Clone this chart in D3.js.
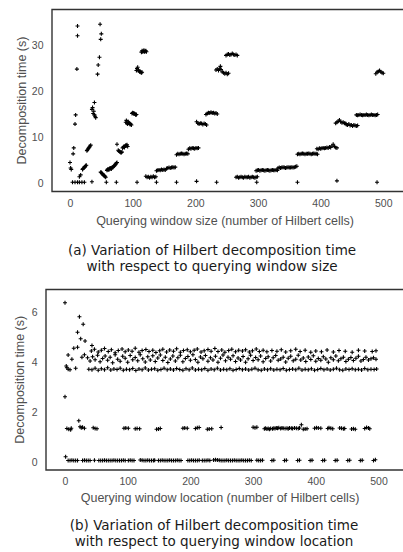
<!DOCTYPE html>
<html><head><meta charset="utf-8">
<script src="https://cdn.jsdelivr.net/npm/d3@7"></script>
<style>body{margin:0;background:#fff}svg{display:block}</style>
</head><body><svg id="c" width="403" height="552"></svg>
<script>
// ---------- Chart (a): window size vs decomposition time ----------
const sizeTicksX = [0, 100, 200, 300, 400, 500];
const sizeTicksY = [0, 10, 20, 30];
const sizeScatter = [[0,4.4],[1,3.2],[2,2.9],[5,6.3],[6,7.6],[8,12.8],[9,14.8],[11,24.8],[12,32.1],[12,34.2],[15,1.3],[17,1.7],
 [4,0.1],[8,0.1],[12,0.1],[15,0.1],[19,0.1],[23,0.1],[35,0.2],[58,0.1],[74,0.1],[107,0.1],[138,0.1],[170,0.1],[202,0.3],[234,0.1],
 [298,0.1],[363,0.1],[426,0.4],[490,0.1],[44,23.7],[45,25.7],[47,27.4],[49,31.3],[50,32.5],[48,34.6],[39,17.5],[75,8.4],
 [35,16.0],[36,16.4],[37,15.1],[38,15.6],[39,14.8],[40,14.5],[41,14.2]];
const sizeLow = [[20,2.9],[21,3.1],[22,3.2],[23,3.4],[24,3.5],[25,3.7],[26,3.8],
 [27,7.0],[28,7.2],[29,7.4],[30,7.6],[31,7.8],[32,8.0],[33,8.2],
 [49,2.3],[50,2.2],[51,2.0],[52,1.9],[53,1.7],[54,1.6],[55,1.5],[56,1.3],[57,1.2],
 [59,2.7],[60,2.9],[61,3.0],[62,2.8],[63,3.1],[64,3.1],[65,3.2],[66,3.0],[67,3.3],[68,3.4],[69,3.5],[70,3.6],[71,3.7],[72,3.9],[73,4.1],[74,4.3],[75,4.4],
 [77,7.1],[78,6.9],[79,6.8],[80,6.7],[81,6.6],[82,6.6],[83,6.7],
 [84,7.6],[85,7.8],[86,7.9],[87,7.7],[88,8.0],[89,8.2],[90,8.1],[91,8.3],[92,7.9],
 [121,1.4],[123,1.2],[125,1.3],[127,1.1],[129,1.3],[131,1.2],[133,1.4],[135,1.2],[137,1.3],
 [138,2.6],[140,2.7],[142,2.8],[144,2.7],[146,2.9],[148,2.8],[150,2.9],[152,2.8],
 [154,3.1],[156,3.2],[158,3.3],[160,3.2],[162,3.3],[164,3.4],[166,3.3],[168,3.4],
 [170,6.1],[172,6.3],[174,6.2],[176,6.3],[178,6.4],[180,6.3],[182,6.2],[184,6.3],[186,6.4],[188,6.3],
 [189,7.3],[191,7.5],[193,7.4],[195,7.6],[197,7.5],[199,7.4],[201,7.6],[203,7.5],[205,7.6],
 [265,1.2],[267,1.3],[269,1.1],[271,1.2],[273,1.3],[275,1.2],[277,1.1],[279,1.3],[281,1.2],[283,1.2],[285,1.3],[287,1.1],[289,1.2],[291,1.3],[293,1.2],[295,1.1],[297,1.2],[299,1.3],
 [297,2.6],[299,2.7],[301,2.8],[303,2.6],[305,2.7],[307,2.8],[309,2.7],[311,2.6],[313,2.7],[315,2.8],[317,2.7],[319,2.6],[321,2.7],[323,2.8],[325,2.7],[327,2.7],[329,2.8],[331,2.7],
 [332,3.2],[334,3.3],[336,3.2],[338,3.3],[340,3.4],[342,3.3],[344,3.2],[346,3.3],[348,3.4],[350,3.3],[352,3.3],[354,3.4],[356,3.3],[358,3.4],[360,3.5],[362,3.6],
 [363,6.2],[365,6.3],[367,6.2],[369,6.3],[371,6.4],[373,6.3],[375,6.2],[377,6.3],[379,6.3],[381,6.4],[383,6.3],[385,6.2],[387,6.3],[389,6.4],[391,6.3],[393,6.3],[395,6.2],
 [394,7.4],[396,7.3],[398,7.5],[400,7.4],[402,7.5],[404,7.6],[406,7.5],[408,7.6],[410,7.7],[412,7.6],[414,7.8],[416,7.7],[418,8.0],[420,8.4],[422,7.9],[424,7.7],[426,7.6]];
const sizeHigh = [[89,13.2],[90,13.6],[91,13.0],[92,12.8],[93,13.3],[94,13.1],[95,12.9],[96,12.7],[97,12.8],[98,12.6],
 [99,15.1],[100,15.3],[101,15.2],[102,15.0],[103,15.1],[104,15.0],[105,14.8],[106,14.9],
 [106,24.5],[107,24.9],[108,25.2],[109,24.6],[110,24.4],[111,24.2],[112,24.3],[113,24.1],[114,24.0],[115,24.1],
 [114,28.5],[115,28.8],[116,28.6],[117,28.7],[118,28.9],[119,28.6],[120,28.7],[121,28.8],[122,28.6],
 [202,13.3],[204,13.0],[206,12.8],[208,13.0],[210,12.9],[212,12.7],[214,12.9],[216,12.8],[218,12.6],
 [217,14.9],[219,15.1],[221,15.3],[223,15.2],[225,15.4],[227,15.2],[229,15.3],[231,15.1],[233,15.2],[235,15.0],
 [233,24.6],[235,24.8],[237,24.5],[239,25.0],[240,25.4],[241,24.7],[243,24.2],[245,24.0],[247,23.8],[249,24.0],[251,23.7],[253,23.9],
 [249,27.8],[251,28.0],[253,28.1],[255,27.9],[257,28.0],[259,28.2],[261,28.0],[263,27.9],[265,28.0],[267,27.8],
 [424,13.0],[426,13.2],[428,13.4],[430,13.7],[432,13.3],[434,13.1],[436,13.2],[438,13.0],[440,12.9],
 [441,12.7],[443,12.6],[445,12.8],[447,12.5],[449,12.6],[451,12.4],[453,12.6],[455,12.5],[457,12.4],[459,12.5],
 [457,14.8],[459,14.7],[461,14.8],[463,14.9],[465,14.8],[467,14.7],[469,14.8],[471,14.8],[473,14.9],[475,14.8],[477,14.7],[479,14.8],[481,14.9],[483,14.8],[485,14.8],[487,14.7],[489,14.8],[491,14.9],
 [488,23.8],[490,24.1],[492,24.3],[494,24.5],[496,24.2],[498,24.0],[500,23.9]];

// ---------- Chart (b): window location vs decomposition time ----------
const locTicksX = [0, 100, 200, 300, 400, 500];
const locTicksY = [0, 2, 4, 6];
const locScatter = [[0,6.38],[0,2.62],[1,0.22],[23,5.82],[29,5.52],[20,5.2],[25,4.94],[32,4.85],[14,4.56],[20,4.6],[5,4.29],[11,4.12],
 [2,3.85],[3,3.78],[5,3.72],[8,3.7],[17,3.76],[27,4.2],[31,4.3],[43,4.67],[22,1.66]];
const bandUpper = [[42,4.45],[47,4.52],[53,4.41],[58,4.48],[63,4.55],[69,4.43],[74,4.5],[80,4.38],[85,4.47],[91,4.53],[96,4.42],[101,4.49],[107,4.44],[112,4.56],[118,4.4],[123,4.47],[129,4.51],[134,4.43],[140,4.48],[145,4.39],[151,4.46],[156,4.52],[162,4.41],[167,4.49],[173,4.44],[178,4.54],[184,4.4],[189,4.47],[195,4.5],[200,4.42],[206,4.48],[211,4.53],[217,4.41],[222,4.46],[228,4.51],[233,4.44],[239,4.55],[244,4.43],[250,4.49],[255,4.4],[261,4.47],[266,4.52],[272,4.42],[277,4.48],[283,4.45],[288,4.5],[294,4.41],[299,4.46],[305,4.53],[310,4.43],[316,4.48],[322,4.42],[330,4.47],[338,4.44],[345,4.5],[352,4.41],[360,4.46],[368,4.52],[375,4.43],[383,4.48],[392,4.4],[400,4.45],[409,4.42],[418,4.49],[428,4.41],[437,4.47],[447,4.44],[458,4.4],[468,4.48],[478,4.45],[490,4.43],[496,4.46]];
const bandMiddle = [[36,4.18],[40,4.05],[44,4.22],[48,4.1],[52,4.28],[56,4.02],[60,4.15],[64,4.25],[68,4.08],[72,4.2],[76,3.98],[80,4.3],[84,4.12],[88,4.04],[92,4.24],[96,4.16],[100,4.0],[104,4.27],[108,4.1],[112,4.19],[116,4.06],[120,4.3],[124,4.14],[128,4.01],[132,4.22],[136,4.09],[140,4.26],[144,4.03],[148,4.17],[152,4.29],[156,4.07],[160,4.2],[164,3.99],[168,4.13],[172,4.25],[176,4.05],[180,4.18],[184,4.28],[188,4.02],[192,4.15],[196,4.23],[200,4.08],[204,4.3],[208,4.11],[212,4.0],[216,4.21],[220,4.14],[224,4.27],[228,4.04],[232,4.18],[236,4.09],[240,4.24],[244,4.0],[248,4.16],[252,4.29],[256,4.06],[260,4.2],[264,4.12],[268,4.26],[272,4.03],[276,4.17],[280,4.09],[284,4.23],[288,4.0],[292,4.14],[296,4.28],[300,4.07],[304,4.19],[308,4.1],[312,4.25],[316,4.02],[320,4.15],[324,4.22],[328,4.05],[332,4.18],[336,4.27],[340,4.08],[344,4.13],[348,4.2],[352,4.01],[356,4.16],[360,4.24],[364,4.06],[368,4.12],[372,4.28],[376,4.09],[380,4.17],[384,4.03],[388,4.21],[392,4.11],[396,4.26],[400,4.04],[404,4.15],[408,4.08],[412,4.22],[416,4.13],[420,4.0],[424,4.18],[428,4.1],[432,4.25],[436,4.06],[440,4.14],[444,4.2],[448,4.03],[452,4.12],[456,4.19],[460,4.07],[464,4.16],[468,4.24],[472,4.05],[476,4.11],[480,4.2],[484,4.09],[488,4.14],[492,4.18],[496,4.12]];
const bandLower = [[38,3.72],[43,3.7],[48,3.76],[53,3.68],[58,3.74],[63,3.7],[68,3.78],[73,3.69],[78,3.73],[83,3.71],[88,3.76],[93,3.68],[98,3.72],[103,3.7],[108,3.75],[113,3.67],[118,3.73],[123,3.7],[128,3.77],[133,3.69],[138,3.72],[143,3.74],[148,3.68],[153,3.71],[158,3.76],[163,3.7],[168,3.73],[173,3.69],[178,3.75],[183,3.71],[188,3.68],[193,3.74],[198,3.7],[203,3.77],[208,3.69],[213,3.72],[218,3.7],[223,3.75],[228,3.68],[233,3.73],[238,3.7],[243,3.76],[248,3.69],[253,3.72],[258,3.7],[263,3.74],[268,3.68],[273,3.71],[278,3.75],[283,3.7],[288,3.73],[293,3.69],[298,3.72],[303,3.76],[308,3.7],[313,3.68],[318,3.73],[323,3.7],[328,3.74],[333,3.69],[338,3.72],[343,3.7],[348,3.75],[353,3.68],[358,3.71],[363,3.73],[368,3.7],[373,3.76],[378,3.69],[383,3.72],[388,3.7],[393,3.74],[398,3.68],[403,3.71],[408,3.75],[413,3.7],[418,3.73],[423,3.69],[428,3.72],[433,3.76],[438,3.7],[443,3.68],[448,3.73],[453,3.71],[458,3.74],[463,3.7],[468,3.72],[473,3.69],[478,3.75],[483,3.7],[488,3.72],[493,3.71],[497,3.73]];
const midRow = [[3,1.35],[6,1.32],[9,1.3],[10,1.36],[24,1.42],[26,1.38],[28,1.4],[31,1.36],[45,1.38],[48,1.35],[51,1.34],[94,1.36],[97,1.37],[101,1.36],[112,1.34],[115,1.35],[119,1.34],[146,1.32],[149,1.33],[152,1.35],[188,1.36],[191,1.37],[195,1.36],[208,1.35],[211,1.38],[214,1.39],[227,1.32],[230,1.33],[234,1.34],[249,1.39],[300,1.4],[303,1.38],[306,1.4],
 [318,1.34],[320,1.36],[322,1.33],[324,1.35],[326,1.32],[328,1.35],[331,1.34],[333,1.36],[335,1.35],[337,1.37],[339,1.36],[341,1.38],[344,1.35],[346,1.37],[348,1.36],[351,1.35],[354,1.36],[356,1.34],[358,1.37],[361,1.36],[363,1.35],[366,1.37],[369,1.36],[372,1.35],[374,1.37],[377,1.5],[380,1.32],[383,1.33],[386,1.34],[398,1.36],[401,1.38],[404,1.37],[408,1.36],[419,1.35],[421,1.38],[424,1.36],[427,1.34],[438,1.37],[441,1.36],[444,1.34],[446,1.35],[457,1.33],[460,1.34],[463,1.32],[478,1.35],[481,1.39],[484,1.37],[486,1.34]];
const zeroRow = [[5,0.07],[8,0.07],[11,0.08],[14,0.07],[17,0.07],[20,0.07],[28,0.07],[31,0.08],[34,0.07],[37,0.07],[40,0.07],[47,0.08],
 [54,0.07],[57,0.07],[60,0.07],[63,0.08],[66,0.07],[69,0.07],[72,0.07],[75,0.07],[78,0.08],[81,0.07],[84,0.07],[87,0.07],[90,0.07],[93,0.08],[96,0.07],
 [101,0.07],[104,0.08],[107,0.07],[110,0.07],[120,0.09],[123,0.08],[126,0.07],[129,0.07],[132,0.08],[135,0.07],[138,0.07],[141,0.07],[143,0.08],
 [149,0.07],[152,0.07],[155,0.08],[158,0.07],[161,0.07],[164,0.07],[167,0.08],[170,0.07],[173,0.07],[176,0.07],[179,0.08],[182,0.07],[185,0.07],
 [196,0.07],[199,0.07],[202,0.08],[205,0.07],[208,0.07],[211,0.07],[214,0.08],[219,0.07],[222,0.07],[225,0.07],[228,0.08],[231,0.07],
 [237,0.09],[240,0.1],[243,0.09],[246,0.08],[249,0.07],[252,0.07],[255,0.07],[258,0.08],[261,0.07],[264,0.07],[267,0.07],[270,0.08],[273,0.07],[276,0.07],[279,0.07],[282,0.08],[285,0.07],[288,0.07],[291,0.07],[294,0.08],[297,0.07],
 [306,0.08],[309,0.07],[312,0.07],[315,0.08],[330,0.07],[333,0.08],[350,0.07],[353,0.08],[371,0.07],[374,0.08],[391,0.07],[394,0.08],[411,0.07],[414,0.08],[431,0.07],[434,0.08],[451,0.07],[454,0.08],[471,0.07],[474,0.08],[492,0.07],[495,0.1]];

const svg = d3.select('#c');
svg.append('rect').attr('width',403).attr('height',552).attr('fill','#fff');
const plus = 'M-2,0H2M0,-2V2';
const tickFont = '"Liberation Sans", Arial, sans-serif';

function panel(o) {
  const g = svg.append('g');
  const x = d3.scaleLinear().domain([0,500]).range(o.xr);
  const y = d3.scaleLinear().domain(o.yd).range(o.yr);
  // frame (left, top, bottom; right edge runs past the picture)
  g.append('path')
    .attr('d', `M403,${o.top}H${o.left}V${o.bottom}H403`)
    .attr('fill','none').attr('stroke','#333').attr('stroke-width',1.4);
  // axes
  const ya = g.append('g').attr('transform',`translate(${o.left},0)`)
    .call(d3.axisLeft(y).tickValues(o.yt).tickFormat(d3.format('d')).tickSize(0).tickPadding(8.5));
  const xa = g.append('g').attr('transform',`translate(0,${o.bottom})`)
    .call(d3.axisBottom(x).tickValues(o.xt).tickFormat(d3.format('d')).tickSize(0).tickPadding(o.xpad));
  [ya, xa].forEach(a => {
    a.select('.domain').remove();
    a.selectAll('text').attr('fill','#505050').style('font-family',tickFont).style('font-size','10.5px');
  });
  // points
  o.sets.forEach(arr => {
    g.append('g').selectAll('path').data(arr).join('path')
      .attr('d', plus)
      .attr('transform', d => `translate(${x(d[0])},${y(d[1])})`)
      .attr('stroke','#000').attr('stroke-width',1.1).attr('fill','none');
  });
  // axis titles
  g.append('text').attr('transform',`translate(${o.ylx},${(o.top+o.bottom)/2}) rotate(-90)`)
    .attr('text-anchor','middle').attr('dy','0.35em')
    .style('font-family',tickFont).style('font-size','12.5px').attr('fill','#505050')
    .text('Decomposition time (s)');
  g.append('text').attr('x',o.xlx).attr('y',o.xly).attr('text-anchor','middle')
    .style('font-family',tickFont).style('font-size','12.5px').attr('fill','#505050')
    .text(o.xlabel);
  // caption
  o.caption.forEach((line,i) => {
    g.append('text').attr('x',o.capx).attr('y',o.capy + i*16).attr('text-anchor','middle')
      .style('font-family','"DejaVu Sans", sans-serif').style('font-size','13.5px').attr('fill','#1a1a1a')
      .text(line);
  });
}

panel({
  left:52, top:9.5, bottom:191.5,
  xr:[70,383.3], yd:[0,30], yr:[182.7,45.3],
  xt:sizeTicksX, yt:sizeTicksY, xpad:8,
  sets:[sizeScatter,sizeLow,sizeHigh],
  ylx:22, xlx:225, xly:224.5,
  xlabel:'Querying window size (number of Hilbert cells)',
  caption:['(a) Variation of Hilbert decomposition time','with respect to querying window size'],
  capx:212, capy:255
});
panel({
  left:46, top:289.5, bottom:470,
  xr:[65,378.5], yd:[0,6], yr:[462.3,312.3],
  xt:locTicksX, yt:locTicksY, xpad:7.5,
  sets:[locScatter,bandUpper,bandMiddle,bandLower,midRow,zeroRow],
  ylx:20, xlx:220, xly:501.5,
  xlabel:'Querying window location (number of Hilbert cells)',
  caption:['(b) Variation of Hilbert decomposition time','with respect to querying window location'],
  capx:214, capy:530
});
</script></body></html>
